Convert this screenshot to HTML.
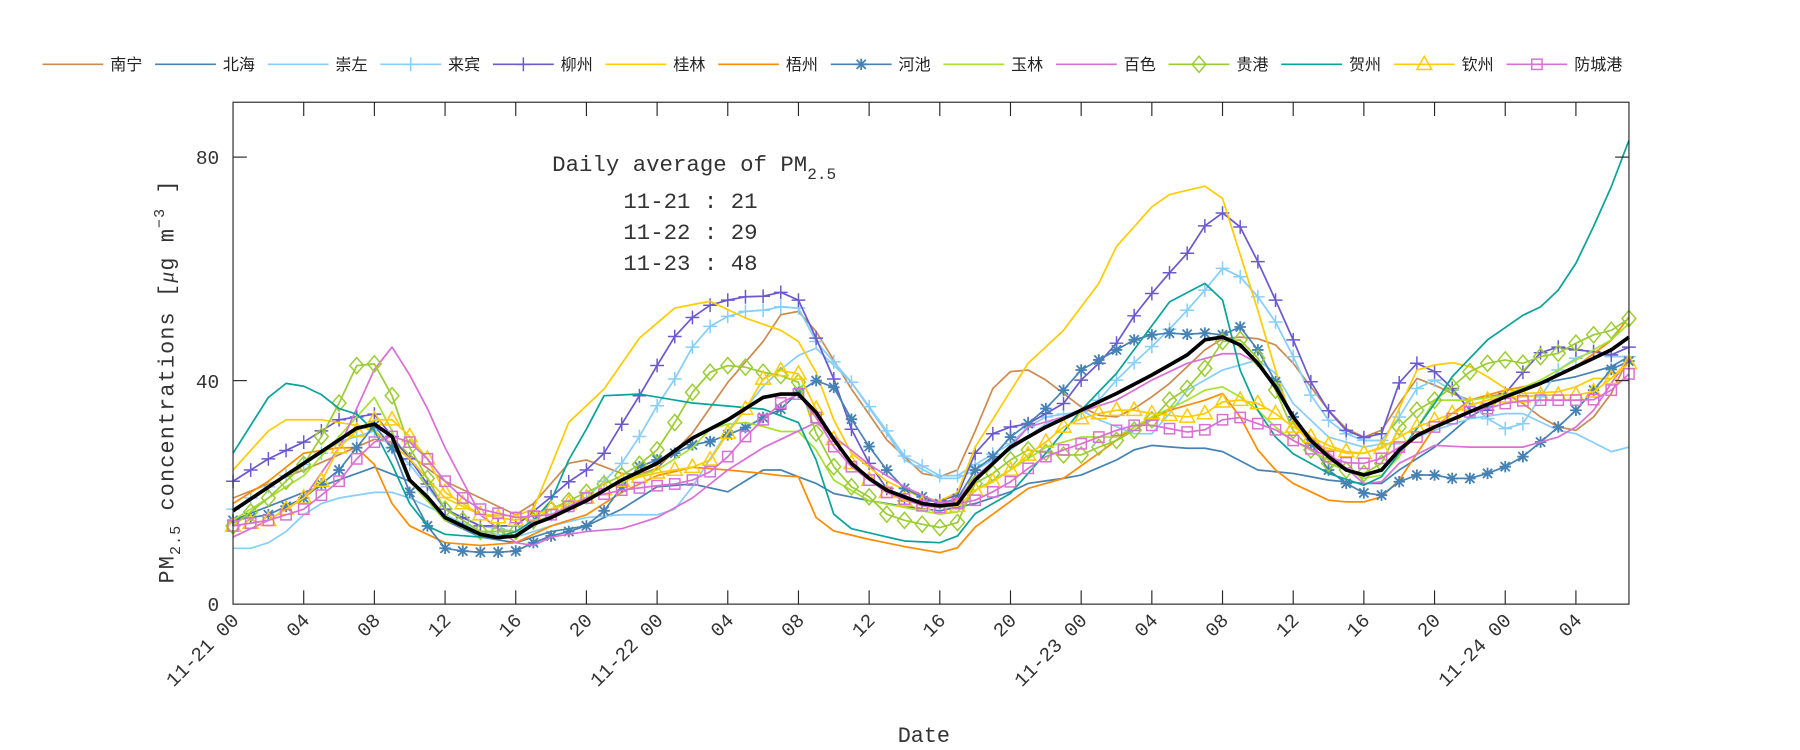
<!DOCTYPE html>
<html><head><meta charset="utf-8"><style>
html,body{margin:0;padding:0;background:#fff;}
svg{display:block;}
text{font-family:"Liberation Mono","Noto Sans CJK SC",monospace;fill:#333;}
.cj{font-family:"Liberation Sans","Noto Sans CJK SC",sans-serif;fill:#222;font-size:14px;}
</style></head><body>
<svg id="s" width="1800" height="750" viewBox="0 0 1568 653" preserveAspectRatio="none" xmlns="http://www.w3.org/2000/svg">
<rect x="0" y="0" width="1568" height="653" fill="#fff"/>
<g id="plot"></g>
<rect x="203" y="89" width="1216" height="437" fill="none" stroke="#262626" stroke-width="1"/>
<g id="ticks" stroke="#262626" stroke-width="1"></g>
<g id="labels"></g>
<text x="481" y="149" font-size="19.5">Daily average of PM<tspan font-size="14" dy="7">2.5</tspan></text>
<text x="543" y="181" font-size="19.5">11-21 : 21</text>
<text x="543" y="208" font-size="19.5">11-22 : 29</text>
<text x="543" y="235" font-size="19.5">11-23 : 48</text>
<text transform="translate(151,508) rotate(-90)" font-size="19" letter-spacing="1">PM<tspan font-size="13" dy="6">2.5</tspan><tspan dy="-6"> concentrations [</tspan><tspan font-family="Liberation Serif" font-style="italic">μ</tspan>g m<tspan font-size="13" dy="-8">−3</tspan><tspan dy="8"> ]</tspan></text>
<text x="782" y="646" font-size="19">Date</text>
<text x="191" y="532" font-size="17" text-anchor="end">0</text>
<text x="191" y="338" font-size="17" text-anchor="end">40</text>
<text x="191" y="143" font-size="17" text-anchor="end">80</text>
<g id="legend"></g>
</svg>
<script>
var NS="http://www.w3.org/2000/svg";
function X(h){return 203+h*15.392;}
function Y(v){return 526-v*4.865;}
function el(t,a,p){var e=document.createElementNS(NS,t);for(var k in a)e.setAttribute(k,a[k]);(p||document.getElementById('plot')).appendChild(e);return e;}
function interp(k){var o=[];for(var h=0;h<=79;h++){for(var i=0;i<k.length-1;i++){var a=k[i],b=k[i+1];if(h>=a[0]&&h<=b[0]){o.push(a[1]+(b[1]-a[1])*(h-a[0])/(b[0]-a[0]));break;}}}return o;}
function P(s){var a=s.trim().split(/\s+/).map(Number),r=[];for(var i=0;i<a.length;i+=2)r.push([a[i],a[i+1]]);return r;}
var S=[
["南宁","#cd8a4f","",P("0 19 4 24 8 29.5 9 29 12 22 16 16 17 18 19 25.2 20 25.8 22 23.4 23 23.2 24 24.3 26 30.6 28 39.7 30 47 31 51.8 32 52.4 33 48.8 35 38.5 37 29.4 39 23.4 40 22.8 41 24 42 31 43 38.6 44 41.6 45 41.9 46 40.1 47 37.7 48 35.3 49 33.8 50 33.5 51 35 52 37.1 53 39.5 54 42.5 55 45.5 56 47.5 57 47.8 58 47.5 59 46.4 60 43.1 61 38.9 62 34.7 63 31.4 64 29.9 65 31.1 66 35.9 67 40.4 68 39.2 69 37.7 70 36.5 72 37.7 73 35.9 74 33.5 75 31.7 76 31.1 77 33.5 78 37.7 79 44.3")],
["北海","#4682b4","",P("0 15 4 20 8 24.5 10 22 12 15 14 12 16 11 18 13 20 14 22 17 24 21 26 21.5 28 20.1 30 24 31 24 32 22.8 33 21.6 34 19.8 36 18.5 38 17.5 40 16.7 42 18 44 20.1 45 21.6 47 22.5 48 23.1 50 25.8 51 27.6 52 28.4 54 27.9 55 27.9 56 27.3 58 24 60 23.4 62 22.2 64 21.6 65 21.6 66 24 68 28.1 70 33.5 72 37.1 74 39.5 76 40.7 78 42.5 79 44.3")],
["崇左","#87cefa","",P("0 10 1 10 2 11 3 13 4 16 5 18 6 19 7 19.5 8 20 9 20 10 19 12 16 14 13 16 12 18 14 20 15.5 22 16 24 16 25 17 26 21 27 26 28 31 30 39 31 42 32 44.5 33 45.8 35 39.7 37 30.6 38 25.8 40 22.5 41 22.5 42 24 44 27.6 46 32.3 48 34.7 49 33 51 30.5 52 30.5 53 34.1 54 38.3 56 41.9 58 43.7 59 41.3 60 35.9 62 29.9 64 28.1 65 28.7 66 28.7 68 31.1 70 33.2 72 34.1 73 34.1 75 31.1 76 30.5 78 27.3 79 28.1")],
["来宾","#87cefa","+",P("0 17 4 25 6 29 8 31 10 25 12 17 14 14 16 13 18 16 20 19 21 22 22 25.2 23 30 24 35.5 25 40.3 26 46 27 49.7 28 51.5 29 52.4 30 52.6 31 53.2 32 53 33 47 35 39.7 37 31 38 26.5 40 23 41 23 42 25 44 28.7 45 31.7 46 33.5 48 34.5 49 36.5 50 40.1 51 43.2 52 46.1 53 49.2 54 52.6 55 56.2 56 60.1 57 58.6 58 55 59 50.5 60 44.3 61 37.4 62 32.9 63 30.5 64 29.3 65 29.3 66 33.5 67 38.6 68 40.1 69 38.3 70 35.9 71 33.2 72 31.4 73 32.3 74 37.1 75 41.9 76 44 77 45.2 78 44.3 79 44.3")],
["柳州","#6a5acd","+",P("0 22 2 26 4 29 6 33 8 34 10 26 12 17 14 14 16 14 18 19.2 19 21.9 20 24 21 27 22 32.2 23 37.3 24 42.7 25 47.9 26 51.3 27 53.5 28 54.4 29 55 30 55.1 31 55.8 32 54.4 33 47.6 34 40.3 35 31.3 36 25.2 37 20.7 38 18.5 40 18.5 41 19.5 42 27 43 30.5 44 31.7 45 32.3 46 34.1 47 35.9 48 40.1 49 43.1 50 46.7 51 51.6 52 55.6 53 59.3 54 62.8 55 67.7 56 70 57 67.5 58 61.3 59 54.4 60 47.3 61 39.8 62 34.6 63 31.1 64 29.8 65 30.5 66 39.6 67 43.1 68 41.6 69 38.6 70 34.7 71 34.7 72 37.7 73 41.5 74 45 75 46 76 45.5 77 45.2 78 44.6 79 46")],
["桂林","#ffcc00","",P("0 24 2 31 3 33 5 33 7 32 8 31 10 26 12 19 14 16 16 15.8 17 17 19 32.5 21 38.5 23 47.6 25 53 27 54.2 29 51.2 31 49 32 47 33 41.5 34 33 35 27 37 22 39 19 40 18.5 41 20 42 28.1 45 43.1 47 49 49 57.4 50 64 52 71.1 53 73.3 55 74.8 56 72.6 58 52.6 59 41.9 60 32.3 61 28.7 63 27 64 27 65 28.1 67 41.9 68 42.8 69 43.2 70 42.5 71 40.7 72 38.6 73 37.7 75 38 76 38.9 77 40.4 78 40.4 79 43.7")],
["梧州","#ff8c00","",P("0 18 2 22 4 27 6 28 7 28 8 25 9 18 10 14 12 11 14 10.5 16 11 18 14 20 16 22 20 24 23 26 24.5 28 24 30 23.4 31 23 32 22.8 33 15.5 34 13.1 36 11.6 38 10.3 40 9.2 41 10.1 42 13.8 45 20.7 47 22.5 49 27 51 31.7 53 34.7 55 36.5 56 37.7 57 33.5 58 27.6 59 24 60 21.6 62 18.6 63 18.3 64 18.3 65 19.2 66 22.2 68 31.7 70 36.5 72 38.3 74 39.5 76 42.5 78 47.2 79 51.4")],
["河池","#4682b4","*",P("0 15 2 16 4 19 6 24 7 28 8 32 9 28 10 20 11 14 12 10 13 9.5 14 9.3 15 9.3 16 9.5 17 11 18 12.2 19 13 20 14 21 16.7 22 21 23 24.6 24 25.8 25 27 26 28.5 27 29.1 28 30.3 29 31.6 30 33.4 31 34.9 32 37.9 33 40 34 38.8 35 33.1 36 28.2 37 24 38 20.7 39 19.2 40 18 41 18.9 42 24 43 26.4 44 29.9 45 32.3 46 35 47 38.3 48 41.9 49 43.7 50 45.5 51 47.3 52 48.2 53 48.5 54 48.3 55 48.5 56 48.2 57 49.6 58 45.5 59 39.8 60 33.5 62 24 63 21.6 64 19.9 65 19.5 66 21.9 67 23.1 68 23.1 69 22.5 70 22.5 71 23.4 72 24.6 73 26.4 74 29 75 31.7 76 34.7 77 38.3 78 42 79 43.5")],
["玉林","#a6e22e","",P("0 15 4 23 6 30 8 37 9 31 10 22 12 15 14 13 16 13 18 17 20 19 22 22 24 24 26 28 27 31.3 28 32.2 29 32.5 30 31.8 31 30.9 32 30.9 33 27.6 34 22.2 36 18.5 40 16.1 41 16.5 42 20.4 44 24 46 28.1 48 29.9 50 29.9 52 33.5 54 36.5 55 38.3 56 38.9 57 37.1 58 34.7 59 31.7 60 29.3 62 25.8 64 22.5 65 23.1 66 26.4 68 36.5 70 36.5 72 37.4 74 40.1 76 43.7 78 47.3 79 50.2")],
["百色","#da70d6","",P("0 12 2 15 4 19 6 28 8 42 9 46 10 41 11 35 12 28 14 16 16 11 17 10.5 18 12 20 13 22 13.5 24 15.5 26 19 28 24 30 28 32 31 33 32.5 34 30 36 25 38 21 40 18 41 18.5 42 22.8 44 28.1 45 31.7 47 33.5 50 36.5 52 40.1 54 43.1 56 44.8 57 44.8 58 43.1 59 38.9 60 32.9 62 27 64 21.6 65 21.9 66 25.2 68 28.4 70 28.1 73 28.1 75 29.9 76 31.7 77 34.7 78 39.5 79 44")],
["贵港","#9acd32","d",P("0 14 2 19 4 25 5 30 6 36 7 42.7 8 43 9 37.3 10 28 12 17 14 13 16 13 18 17 20 20 22 23 23 25 24 27.6 25 32.5 26 37.9 27 41.5 28 42.7 29 42.4 30 41.5 31 40.9 32 39.7 33 30.6 34 24.6 35 21 36 19.2 37 16.1 38 15 39 14.3 40 13.7 41 14.6 42 21.6 43 23.4 44 25.8 45 27.6 47 26.7 48 26.7 49 28.1 50 29.3 52 33 53 36.5 54 38.6 55 42.2 56 47 57 47.3 58 44 59 38.3 60 31.1 61 27.6 62 25.2 63 24 64 23.4 65 25.2 66 31.7 67 34.7 68 36.5 69 38.9 70 41.6 71 43.1 72 43.7 73 43.1 74 44.3 75 44.9 76 46.7 77 48.2 78 49 79 51.1")],
["贺州","#0aa39a","",P("0 27 1 32 2 37 3 39.5 4 39 5 37.5 6 35 7 34 8 31 9 25 10 18 11 14 12 12.5 14 12 15 12 16 13 17 15 18 18.5 19 25.8 20 31.3 21 37.3 23 37.6 26 36 30 34.9 32 32.5 33 25.8 34 16.1 35 13.5 38 11.3 40 11 41 12.2 42 16.2 44 19.8 46 27 48 34.7 50 41.3 53 54.1 55 57.4 56 54.4 57 41.9 58 34.7 59 29.9 60 26.9 62 23.4 64 21.3 65 22.8 66 27 68 35.9 69 40.7 71 47.3 73 51.7 74 53.2 75 56.2 76 61 77 67.6 78 74.7 79 83")],
["钦州","#ffcc00","t",P("0 14 2 15 4 19 5 22 6 28 7 31 8 33 9 33 10 30 11 26 12 20 14 16 16 15 18 17 20 19 22 22 24 23.5 26 24.5 27 25.8 28 30.6 29 34.9 30 40.3 31 41.8 32 41.2 33 34.9 34 29.5 35 25.2 36 22.2 37 20 38 18.5 40 17.3 41 17.5 42 20.4 43 21.9 44 24 45 26.7 46 29 47 31.7 48 33.2 49 34.1 50 34.7 51 34.7 52 34.1 53 33.8 54 33.5 55 34.1 56 36.2 57 36.5 58 35.9 59 34.1 60 31.7 61 29.9 62 28.4 63 27.3 64 27 65 27.9 66 29.9 67 31.7 68 32.9 69 34.1 70 35.6 71 36.5 72 37.1 73 37.1 74 37.4 76 37.4 77 38 78 40.4 79 43.1")],
["防城港","#da70d6","s",P("0 14 2 15 4 17 6 22 7 26 8 29 9 30 10 29 11 26 12 22 13 19 14 17 16 15.5 18 16 20 19 22 20.4 23 20.8 24 21.2 25 21.5 26 22.2 27 23.7 28 26.4 29 30 30 33 31 36 32 37.6 33 33.4 34 28.2 35 24.6 36 22.2 37 20 38 18.8 39 17.6 40 17.3 41 18 42 18.6 43 20.1 44 21.9 45 24.3 46 26.4 47 27.6 48 28.7 49 29.9 50 31.1 51 32 52 32 53 31.4 54 30.8 55 31.2 56 33 57 33.4 58 32.3 59 31.2 60 29.3 61 27.8 62 26.4 63 25.3 64 25.2 65 26.1 66 28.1 67 29.9 68 31.7 69 33.2 70 34.4 71 35 72 35.9 73 36.4 74 36.5 76 36.5 77 36.6 78 38.3 79 41.2")]
];
function marker(t,x,y,c,g){
 var a={stroke:c,"stroke-width":1.3,fill:"none"};
 if(t=="+"){a.d="M"+(x-6)+" "+y+"h12M"+x+" "+(y-6)+"v12";el("path",a,g);}
 else if(t=="*"){a.d="M"+(x-5)+" "+y+"h10M"+x+" "+(y-5)+"v10M"+(x-4)+" "+(y-4)+"l8 8M"+(x+4)+" "+(y-4)+"l-8 8";a["stroke-width"]=1.6;el("path",a,g);}
 else if(t=="d"){a.d="M"+x+" "+(y-7)+"L"+(x+6)+" "+y+"L"+x+" "+(y+7)+"L"+(x-6)+" "+y+"Z";el("path",a,g);}
 else if(t=="t"){a.d="M"+x+" "+(y-7)+"L"+(x+6.5)+" "+(y+4.5)+"L"+(x-6.5)+" "+(y+4.5)+"Z";el("path",a,g);}
 else if(t=="s"){a.x=x-4.5;a.y=y-4.5;a.width=9;a.height=9;el("rect",a,g);}
}
S.forEach(function(s){
 var v=interp(s[3]);
 var pts=v.map(function(q,i){return X(i).toFixed(1)+","+Y(q).toFixed(1);}).join(" ");
 el("polyline",{points:pts,fill:"none",stroke:s[1],"stroke-width":1.5,"stroke-linejoin":"round"});
 if(s[2])v.forEach(function(q,i){marker(s[2],X(i),Y(q),s[1]);});
});
var mean=interp(P("0 16.7 4 25.2 7 31.5 8 32.2 9 30 10 22.2 11 19.2 12 15.5 14 12.5 15 11.9 16 12.2 17 14.3 18 15.5 20 18.5 22 22.2 24 25.2 26 29.7 28 33 30 37 31 37.6 32 37.6 33 34.3 34 29.5 35 25.2 36 22.5 37 20.4 38 19.2 39 18 40 17.6 41 17.9 42 22.2 44 28.1 46 31.7 48 34.7 50 37.7 52 41 54 44.6 55 47.3 56 47.8 57 46.4 58 43.1 59 38.9 60 33.5 61 29.3 62 26.4 63 24 64 23.1 65 24 66 27.6 67 30.2 68 31.7 70 34.4 72 37.1 74 39.5 76 42.5 78 45.5 79 47.8"));
el("polyline",{points:mean.map(function(q,i){return X(i).toFixed(1)+","+Y(q).toFixed(1);}).join(" "),fill:"none",stroke:"#000","stroke-width":3.2,"stroke-linejoin":"round"});
var tk=document.getElementById('ticks'),lb=document.getElementById('labels');
for(var h=0;h<=79;h+=4){var x=X(h);
 if(h>0){el("line",{x1:x,y1:526,x2:x,y2:514},tk);el("line",{x1:x,y1:89,x2:x,y2:101},tk);}
 var hh=h%24,lab=(hh<10?"0":"")+hh;if(hh==0)lab="11-"+(21+h/24)+" "+lab;
 var t=el("text",{transform:"translate("+(x+6)+",541) rotate(-45)","text-anchor":"end","font-size":"17"},lb);t.textContent=lab;}
[40,80].forEach(function(v){el("line",{x1:203,y1:Y(v),x2:215,y2:Y(v)},tk);el("line",{x1:1419,y1:Y(v),x2:1407,y2:Y(v)},tk);});
var lg=document.getElementById('legend');
S.forEach(function(s,i){var x0=37+i*98.1,y=56;
 el("line",{x1:x0,y1:y,x2:x0+53,y2:y,stroke:s[1],"stroke-width":1.5},lg);
 if(s[2])marker(s[2],x0+26.5,y,s[1],lg);
 var t=el("text",{x:x0+59,y:y+5,"class":"cj"},lg);t.textContent=s[0];});
</script>
</body></html>
